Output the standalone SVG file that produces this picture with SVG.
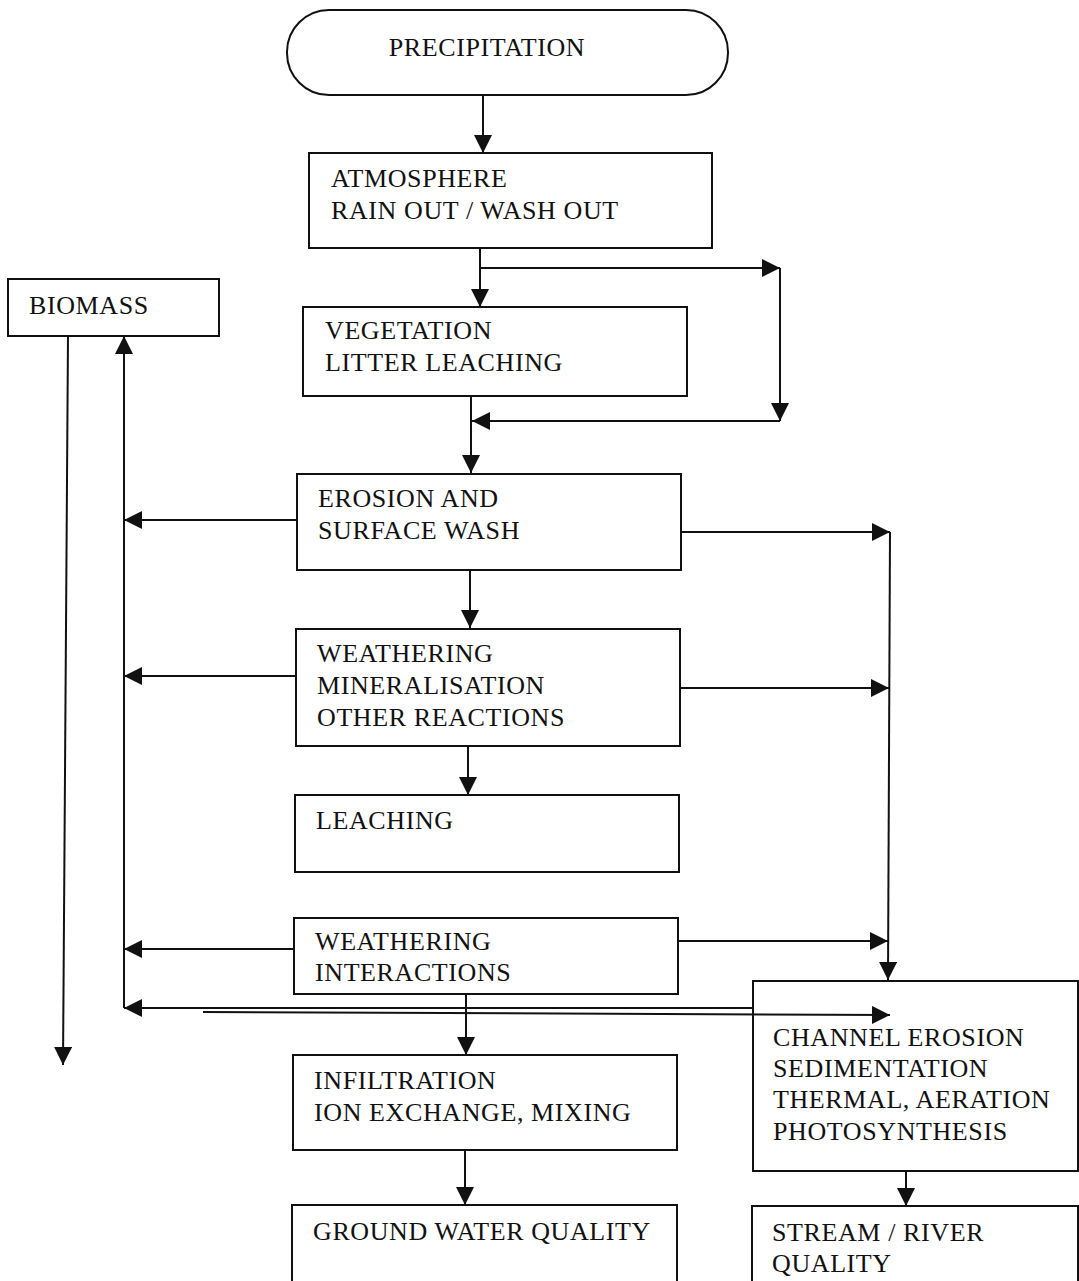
<svg xmlns="http://www.w3.org/2000/svg" width="1079" height="1281" viewBox="0 0 1079 1281">
<defs>
<marker id="ah" markerUnits="userSpaceOnUse" markerWidth="18" markerHeight="18" refX="18" refY="9" orient="auto">
<path d="M0,0 L18,9 L0,18 z" fill="#111"/>
</marker>
<style>
.box{fill:#fff;stroke:#111;stroke-width:2}
.t{font-family:"Liberation Serif","Times New Roman",serif;font-size:26px;letter-spacing:0.6px;fill:#111}
.c{fill:none;stroke:#111;stroke-width:2}
.a{fill:none;stroke:#111;stroke-width:2;marker-end:url(#ah)}
</style>
</defs>
<rect width="1079" height="1281" fill="#fff"/>
<g id="connectors">
<line class="a" x1="483" y1="95" x2="483" y2="153"/>
<line class="a" x1="480" y1="248" x2="480" y2="307"/>
<line class="a" x1="480" y1="268" x2="780" y2="268"/>
<line class="a" x1="780" y1="268" x2="780" y2="421"/>
<line class="a" x1="780" y1="421" x2="472" y2="421"/>
<line class="a" x1="471" y1="396" x2="471" y2="473"/>
<line class="a" x1="470" y1="570" x2="470" y2="628"/>
<line class="a" x1="468" y1="746" x2="468" y2="795"/>
<line class="a" x1="466" y1="994" x2="466" y2="1055"/>
<line class="a" x1="465" y1="1150" x2="465" y2="1205"/>
<line class="a" x1="906" y1="1171" x2="906" y2="1206"/>
<line class="a" x1="601" y1="932" x2="601" y2="989"/>
<line class="a" x1="68" y1="336" x2="63" y2="1065"/>
<line class="a" x1="124" y1="1008" x2="124" y2="336"/>
<line class="a" x1="297" y1="520" x2="124" y2="520"/>
<line class="a" x1="296" y1="676" x2="124" y2="676"/>
<line class="a" x1="294" y1="949" x2="124" y2="949"/>
<line class="a" x1="753" y1="1008" x2="124" y2="1008"/>
<line class="a" x1="203" y1="1012" x2="890" y2="1015"/>
<line class="a" x1="681" y1="532" x2="890" y2="532"/>
<line class="a" x1="680" y1="688" x2="889" y2="688"/>
<line class="a" x1="678" y1="941" x2="888" y2="941"/>
<line class="a" x1="890" y1="532" x2="888" y2="980"/>
</g>
<g id="precipitation">
<rect class="box" x="287" y="10" width="441" height="85" rx="42" ry="42"/>
<text class="t" x="487" y="56" text-anchor="middle">PRECIPITATION</text>
</g>
<g id="atmosphere">
<rect class="box" x="309" y="153" width="403" height="95"/>
<text class="t" x="331" y="187">ATMOSPHERE</text>
<text class="t" x="331" y="219">RAIN OUT / WASH OUT</text>
</g>
<g id="biomass">
<rect class="box" x="8" y="279" width="211" height="57"/>
<text class="t" x="29" y="314">BIOMASS</text>
</g>
<g id="vegetation">
<rect class="box" x="303" y="307" width="384" height="89"/>
<text class="t" x="325" y="339">VEGETATION</text>
<text class="t" x="325" y="371">LITTER LEACHING</text>
</g>
<g id="erosion">
<rect class="box" x="297" y="474" width="384" height="96"/>
<text class="t" x="318" y="507">EROSION AND</text>
<text class="t" x="318" y="539">SURFACE WASH</text>
</g>
<g id="weathering">
<rect class="box" x="296" y="629" width="384" height="117"/>
<text class="t" x="317" y="662">WEATHERING</text>
<text class="t" x="317" y="694">MINERALISATION</text>
<text class="t" x="317" y="726">OTHER REACTIONS</text>
</g>
<g id="leaching">
<rect class="box" x="295" y="795" width="384" height="77"/>
<text class="t" x="316" y="829">LEACHING</text>
</g>
<g id="weathering-interactions">
<rect class="box" x="294" y="918" width="384" height="76"/>
<text class="t" x="315" y="950">WEATHERING</text>
<text class="t" x="315" y="981">INTERACTIONS</text>
</g>
<g id="infiltration">
<rect class="box" x="293" y="1055" width="384" height="95"/>
<text class="t" x="314" y="1089">INFILTRATION</text>
<text class="t" x="314" y="1121">ION EXCHANGE, MIXING</text>
</g>
<g id="groundwater">
<rect class="box" x="292" y="1205" width="385" height="80"/>
<text class="t" x="313" y="1240">GROUND WATER QUALITY</text>
</g>
<g id="channel">
<rect class="box" x="753" y="981" width="325" height="190" style="fill:none"/>
<text class="t" x="773" y="1046">CHANNEL EROSION</text>
<text class="t" x="773" y="1077">SEDIMENTATION</text>
<text class="t" x="773" y="1108">THERMAL, AERATION</text>
<text class="t" x="773" y="1140">PHOTOSYNTHESIS</text>
</g>
<g id="stream">
<rect class="box" x="752" y="1206" width="326" height="80"/>
<text class="t" x="772" y="1241">STREAM / RIVER</text>
<text class="t" x="772" y="1272">QUALITY</text>
</g>
</svg>
